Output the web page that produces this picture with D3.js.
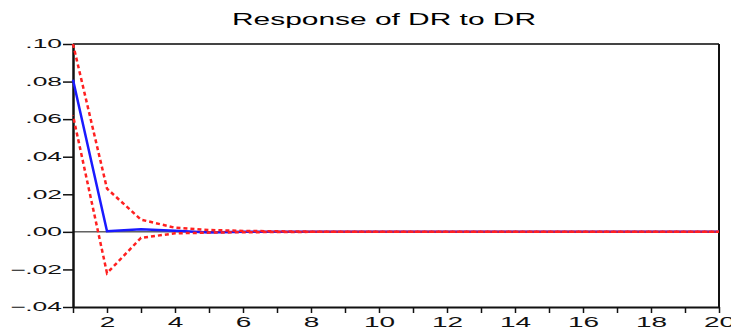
<!DOCTYPE html>
<html lang="en">
<head>
<meta charset="utf-8">
<title>Response of DR to DR</title>
<script src="https://d3js.org/d3.v7.min.js"></script>
<style>
  body { margin: 0; background: #fff; }
  svg { display: block; font-family: Arial, "Liberation Sans", sans-serif; }
</style>
</head>
<body>
<div id="chart"></div>
<script>
// periods of the impulse response
var periods = d3.range(1, 21);
// response of DR to a DR shock
var response = [0.081, 0.0003, 0.0014, 0.0006, -0.0003, 0.0001, 0.0001, 0, 0, 0,
                0, 0, 0, 0, 0, 0, 0, 0, 0, 0];
// +/- 2 s.e. bands
var upper = [0.100, 0.023, 0.0065, 0.0022, 0.0010, 0.0005, 0.0003, 0.0001, 0, 0,
             0, 0, 0, 0, 0, 0, 0, 0, 0, 0];
var lower = [0.062, -0.022, -0.0032, -0.0008, -0.0004, -0.0002, -0.0001, 0, 0, 0,
             0, 0, 0, 0, 0, 0, 0, 0, 0, 0];
var yTicks = [-0.04, -0.02, 0, 0.02, 0.04, 0.06, 0.08, 0.10];
var xLabels = [2, 4, 6, 8, 10, 12, 14, 16, 18, 20];

var W = 731, H = 330;
var margin = { top: 44, right: 12, bottom: 23, left: 73 };

var svg = d3.select("#chart").append("svg")
    .attr("width", W).attr("height", H);

var x = d3.scaleLinear().domain([1, 20]).range([margin.left, W - margin.right]);
var y = d3.scaleLinear().domain([-0.04, 0.10]).range([H - margin.bottom, margin.top]);

// format like ".10" / "-.02"
function fmt(v) {
  var s = d3.format(".2f")(v);
  return s.replace("0.", ".");
}

// title
svg.append("text")
    .attr("x", 384).attr("y", 25)
    .attr("text-anchor", "middle")
    .attr("font-size", 16)
    .attr("textLength", 304)
    .attr("lengthAdjust", "spacingAndGlyphs")
    .text("Response of DR to DR");

// frame top/right
svg.append("line")
    .attr("x1", x(1)).attr("x2", x(20)).attr("y1", y(0.10)).attr("y2", y(0.10))
    .attr("stroke", "#444").attr("stroke-width", 2);
svg.append("line")
    .attr("x1", x(20)).attr("x2", x(20)).attr("y1", y(0.10)).attr("y2", y(-0.04))
    .attr("stroke", "#111").attr("stroke-width", 2);

// y axis
var yAxis = svg.append("g")
    .attr("transform", "translate(" + x(1) + ",0)")
    .call(d3.axisLeft(y).tickValues(yTicks).tickFormat(fmt).tickSize(10).tickSizeOuter(0));
yAxis.select(".domain").attr("stroke", "#111").attr("stroke-width", 2.5);
yAxis.selectAll(".tick line").attr("stroke", "#111").attr("stroke-width", 1.5);
yAxis.selectAll(".tick text")
    .attr("font-size", 12)
    .attr("fill", "#111")
    .attr("x", 0)
    .attr("transform", "translate(-11,0) scale(2.2,1)");

// x axis
var xAxis = svg.append("g")
    .attr("transform", "translate(0," + y(-0.04) + ")")
    .call(d3.axisBottom(x).tickValues(periods)
      .tickFormat(function (d) { return xLabels.indexOf(d) >= 0 ? d : ""; })
      .tickSize(6).tickSizeOuter(0));
xAxis.select(".domain").attr("stroke", "#111").attr("stroke-width", 2);
xAxis.selectAll(".tick line").attr("stroke", "#111").attr("stroke-width", 1.5);
xAxis.selectAll(".tick text")
    .attr("font-size", 14)
    .attr("fill", "#111")
    .attr("y", 0)
    .attr("transform", "translate(0,10) scale(2,1)");

// zero line
svg.append("line")
    .attr("x1", x(1)).attr("x2", x(20)).attr("y1", y(0)).attr("y2", y(0))
    .attr("stroke", "#111").attr("stroke-width", 1);

var line = d3.line()
    .x(function (d, i) { return x(periods[i]); })
    .y(function (d) { return y(d); });

svg.append("path")
    .datum(response)
    .attr("d", line)
    .attr("fill", "none")
    .attr("stroke", "#1a1aff")
    .attr("stroke-width", 2.5);

[upper, lower].forEach(function (band, k) {
  svg.append("path")
      .datum(band)
      .attr("d", line)
      .attr("fill", "none")
      .attr("stroke", "#ff2020")
      .attr("stroke-width", 2.5)
      .attr("stroke-dasharray", "4,3")
      .attr("stroke-dashoffset", k * 3.5);
});
</script>
</body>
</html>
